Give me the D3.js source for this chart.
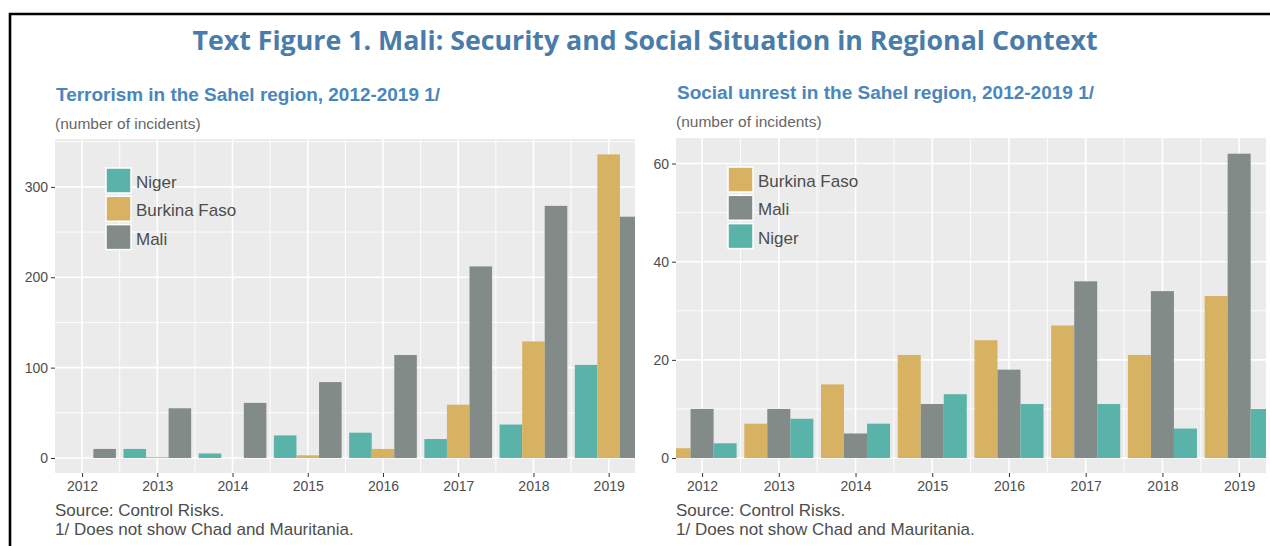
<!DOCTYPE html>
<html>
<head>
<meta charset="utf-8">
<script src="https://cdn.jsdelivr.net/npm/d3@7"></script>
<style>
  body { margin: 0; background: #fff; }
  svg { display: block; }
  .tick text { font-family: "Liberation Sans", Arial, sans-serif; font-size: 14px; fill: #4D4D4D; }
  .tick line { stroke: #333; }
</style>
</head>
<body>
<svg id="chart" width="1270" height="546"></svg>
<script>
// years on the x axis
var years = [2012, 2013, 2014, 2015, 2016, 2017, 2018, 2019];

// terrorism incidents (left chart)
var terrorNiger   = [0, 10, 5, 25, 28, 21, 37, 103];
var terrorBurkina = [0, 1, 0, 3, 10, 59, 129, 336];
var terrorMali    = [10, 55, 61, 84, 114, 212, 279, 267];

// social unrest incidents (right chart)
var unrestBurkina = [2, 7, 15, 21, 24, 27, 21, 33];
var unrestMali    = [10, 10, 5, 11, 18, 36, 34, 62];
var unrestNiger   = [3, 8, 7, 13, 11, 11, 6, 10];

var terrorTicks = [0, 100, 200, 300];
var unrestTicks = [0, 20, 40, 60];

var colNiger = "#5AB3A9", colBurkina = "#D8B263", colMali = "#838B88";

var svg = d3.select("#chart");

// outer frame
svg.append("path")
    .attr("d", "M10,546 V14 H1270")
    .attr("fill", "none")
    .attr("stroke", "#000")
    .attr("stroke-width", 2.6);

// main title
svg.append("text")
    .attr("x", 645).attr("y", 50)
    .attr("text-anchor", "middle")
    .attr("textLength", 905).attr("lengthAdjust", "spacingAndGlyphs")
    .style("font-family", "'Open Sans', 'Noto Sans', sans-serif")
    .style("font-weight", "bold")
    .style("font-size", "27px")
    .style("fill", "#4A7CA9")
    .text("Text Figure 1. Mali: Security and Social Situation in Regional Context");

function drawPanel(opt) {
    var g = svg.append("g");
    var x = d3.scaleLinear().domain(opt.xDomain).range([opt.left, opt.right]);
    var y = d3.scaleLinear().domain(opt.yDomain).range([opt.bottom, opt.top]);

    // subtitle + units
    g.append("text")
        .attr("x", opt.left + 1).attr("y", opt.titleY)
        .attr("textLength", opt.titleLen).attr("lengthAdjust", "spacingAndGlyphs")
        .style("font-family", "'Liberation Sans', Arial, sans-serif")
        .style("font-weight", "bold").style("font-size", "18px")
        .style("fill", "#4A86BE")
        .text(opt.title);
    g.append("text")
        .attr("x", opt.left).attr("y", opt.titleY + 28)
        .style("font-family", "'Liberation Sans', Arial, sans-serif")
        .style("font-size", "15.5px").style("fill", "#666")
        .text("(number of incidents)");

    // panel background
    g.append("rect")
        .attr("x", opt.left).attr("y", opt.top)
        .attr("width", opt.right - opt.left).attr("height", opt.bottom - opt.top)
        .attr("fill", "#EBEBEB");

    //gridlines, minor first
    var step = opt.yTicks[1] - opt.yTicks[0];
    var yMinor = opt.yTicks.map(function(d) { return d + step / 2; })
        .filter(function(d) { return d < opt.yDomain[1]; });
    var xMinor = years.map(function(d) { return d - 0.5; }).concat([years[years.length - 1] + 0.5])
        .filter(function(d) { return d > opt.xDomain[0] && d < opt.xDomain[1]; });

    g.selectAll(".ymin").data(yMinor).enter().append("line")
        .attr("x1", opt.left).attr("x2", opt.right)
        .attr("y1", function(d) { return y(d); }).attr("y2", function(d) { return y(d); })
        .attr("stroke", "#fff").attr("stroke-width", 0.9);
    g.selectAll(".xmin").data(xMinor).enter().append("line")
        .attr("y1", opt.top).attr("y2", opt.bottom)
        .attr("x1", function(d) { return x(d); }).attr("x2", function(d) { return x(d); })
        .attr("stroke", "#fff").attr("stroke-width", 0.9);
    g.selectAll(".ymaj").data(opt.yTicks).enter().append("line")
        .attr("x1", opt.left).attr("x2", opt.right)
        .attr("y1", function(d) { return y(d); }).attr("y2", function(d) { return y(d); })
        .attr("stroke", "#fff").attr("stroke-width", 1.6);
    g.selectAll(".xmaj").data(years).enter().append("line")
        .attr("y1", opt.top).attr("y2", opt.bottom)
        .attr("x1", function(d) { return x(d); }).attr("x2", function(d) { return x(d); })
        .attr("stroke", "#fff").attr("stroke-width", 1.6);

    // bars, clipped to the panel
    g.append("clipPath").attr("id", opt.id + "clip")
        .append("rect")
        .attr("x", opt.left).attr("y", opt.top)
        .attr("width", opt.right - opt.left).attr("height", opt.bottom - opt.top);

    var bars = g.append("g").attr("clip-path", "url(#" + opt.id + "clip)");
    opt.series.forEach(function(s, i) {
        bars.selectAll(".b" + i)
            .data(s.values)
            .enter()
            .append("rect")
                .attr("x", function(d, j) { return x(years[j] - 0.45 + i * 0.3); })
                .attr("width", function(d, j) { return x(years[j] - 0.15 + i * 0.3) - x(years[j] - 0.45 + i * 0.3); })
                .attr("y", function(d) { return y(d); })
                .attr("height", function(d) { return y(0) - y(d); })
                .attr("fill", s.color);
    });

    // axes
    var ya = g.append("g")
        .attr("transform", "translate(" + opt.left + ",0)")
        .call(d3.axisLeft(y).tickValues(opt.yTicks).tickSize(4).tickPadding(3).tickFormat(d3.format("d")));
    ya.select(".domain").remove();

    var xa = g.append("g")
        .attr("transform", "translate(0," + opt.bottom + ")")
        .call(d3.axisBottom(x).tickValues(years).tickSize(4).tickPadding(4).tickFormat(d3.format("d")));
    xa.select(".domain").remove();

    // legend
    var leg = g.append("g").attr("transform", "translate(" + opt.legX + "," + opt.legY + ")");
    opt.series.forEach(function(s, i) {
        leg.append("rect")
            .attr("x", 0).attr("y", i * 28.3)
            .attr("width", 25).attr("height", 25)
            .attr("fill", s.color)
            .attr("stroke", "#fff").attr("stroke-width", 1.5);
        leg.append("text")
            .attr("x", 30).attr("y", i * 28.3 + 14)
            .attr("dy", "0.35em")
            .style("font-family", "'Liberation Sans', Arial, sans-serif")
            .style("font-size", "17px").style("fill", "#4D4D4D")
            .text(s.name);
    });

    // footnotes
    g.append("text")
        .attr("x", opt.left).attr("y", 516)
        .style("font-family", "'Liberation Sans', Arial, sans-serif")
        .style("font-size", "17px").style("fill", "#4D4D4D")
        .text("Source: Control Risks.");
    g.append("text")
        .attr("x", opt.left).attr("y", 535)
        .style("font-family", "'Liberation Sans', Arial, sans-serif")
        .style("font-size", "17px").style("fill", "#4D4D4D")
        .text("1/ Does not show Chad and Mauritania.");
}

drawPanel({
    id: "terror",
    left: 55, right: 635, top: 139, bottom: 473,
    xDomain: [2011.64, 2019.35], yDomain: [-16.6, 353],
    yTicks: terrorTicks,
    title: "Terrorism in the Sahel region, 2012-2019 1/", titleLen: 384, titleY: 101,
    legX: 106, legY: 168,
    series: [
        { name: "Niger", values: terrorNiger, color: colNiger },
        { name: "Burkina Faso", values: terrorBurkina, color: colBurkina },
        { name: "Mali", values: terrorMali, color: colMali }
    ]
});

drawPanel({
    id: "unrest",
    left: 676, right: 1266, top: 138, bottom: 473,
    xDomain: [2011.66, 2019.35], yDomain: [-3.05, 65.2],
    yTicks: unrestTicks,
    title: "Social unrest in the Sahel region, 2012-2019 1/", titleLen: 417, titleY: 99,
    legX: 728, legY: 167,
    series: [
        { name: "Burkina Faso", values: unrestBurkina, color: colBurkina },
        { name: "Mali", values: unrestMali, color: colMali },
        { name: "Niger", values: unrestNiger, color: colNiger }
    ]
});
</script>
</body>
</html>
